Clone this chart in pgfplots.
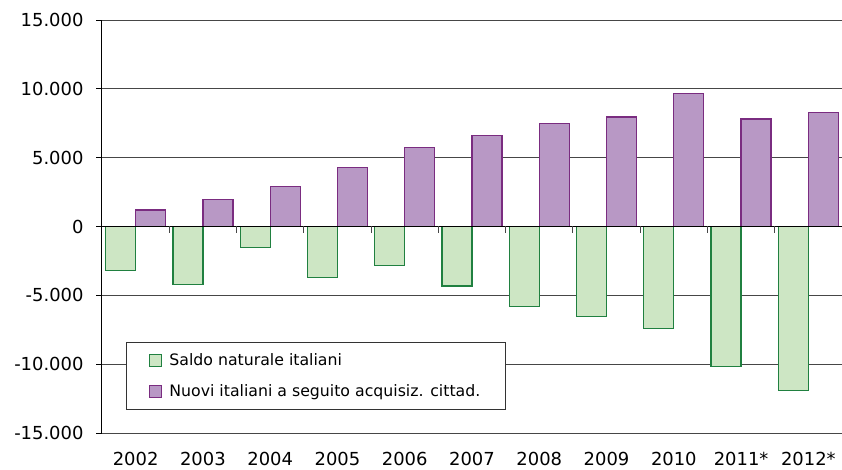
\documentclass[border=0pt]{standalone}
\usepackage{pgfplots}
\pgfplotsset{compat=1.18}
\usepackage{fontspec}
\setmainfont{DejaVu Sans}

\definecolor{gfill}{RGB}{205,230,196}
\definecolor{gdraw}{RGB}{32,128,64}
\definecolor{pfill}{RGB}{184,152,197}
\definecolor{pdraw}{RGB}{122,44,128}
\definecolor{gridc}{RGB}{70,70,70}

\begin{document}
\begin{tikzpicture}
\begin{axis}[
    at={(0,0)}, anchor=south west,
    scale only axis, width=740bp, height=413bp,
    xmin=-0.5, xmax=10.5,
    ymin=-15000, ymax=15000,
    axis y line=left, axis x line=bottom,
    axis line style={-},
    x axis line style={draw=none},
    y axis line style={black, line width=1pt},
    ybar=0pt, bar width=0.446,
    xtick={0,...,10},
    xticklabels={2002,2003,2004,2005,2006,2007,2008,2009,2010,2011*,2012*},
    major x tick style={draw=none},
    ytick={-15000,-10000,...,15000},
    scaled y ticks=false,
    tick align=outside,
    major tick length=6bp,
    ytick style={black, line width=0.8pt},
    ymajorgrids,
    grid style={draw=gridc, line width=0.8pt},
    /pgf/number format/.cd, fixed, 1000 sep={.}, assume math mode=true,
    /pgfplots/.cd,
    ticklabel style={font=\fontsize{18}{21}\selectfont},
    xticklabel style={yshift=-10bp},
    yticklabel style={xshift=-9bp},
    legend style={
        at={(rel axis cs:0.0324,0.220)}, anchor=north west,
        draw=black!80, line width=0.9pt, fill=white,
        font=\fontsize{15.8}{19}\selectfont,
        inner xsep=23bp, inner ysep=9bp,
        row sep=14bp,
        /tikz/every odd column/.append style={column sep=5bp},
    },
    legend cell align=left,
    legend image code/.code={
        \draw[#1, line width=1pt] (0bp,-6bp) rectangle (12bp,6bp);
    },
]
\addplot[fill=gfill, draw=gdraw, line width=1.3pt] coordinates {
    (0,-3200) (1,-4200) (2,-1500) (3,-3700) (4,-2830) (5,-4320)
    (6,-5800) (7,-6540) (8,-7390) (9,-10190) (10,-11930)
};
\addplot[fill=pfill, draw=pdraw, line width=1.3pt] coordinates {
    (0,1200) (1,1950) (2,2900) (3,4280) (4,5750) (5,6600)
    (6,7460) (7,7950) (8,9650) (9,7800) (10,8300)
};
\legend{Saldo naturale italiani, Nuovi italiani a seguito acquisiz. cittad.}
\draw[black, line width=1pt] (axis cs:-0.5,0) -- (axis cs:10.5,0);
\pgfplotsinvokeforeach{0.5,1.5,2.5,3.5,4.5,5.5,6.5,7.5,8.5,9.5}{
    \draw[gridc, line width=1pt] (axis cs:#1,0) -- ([yshift=-7bp]axis cs:#1,0);
}
\end{axis}
\pgfresetboundingbox
\path[use as bounding box] (-102bp,-37bp) rectangle (740bp,433bp);
\end{tikzpicture}
\end{document}
